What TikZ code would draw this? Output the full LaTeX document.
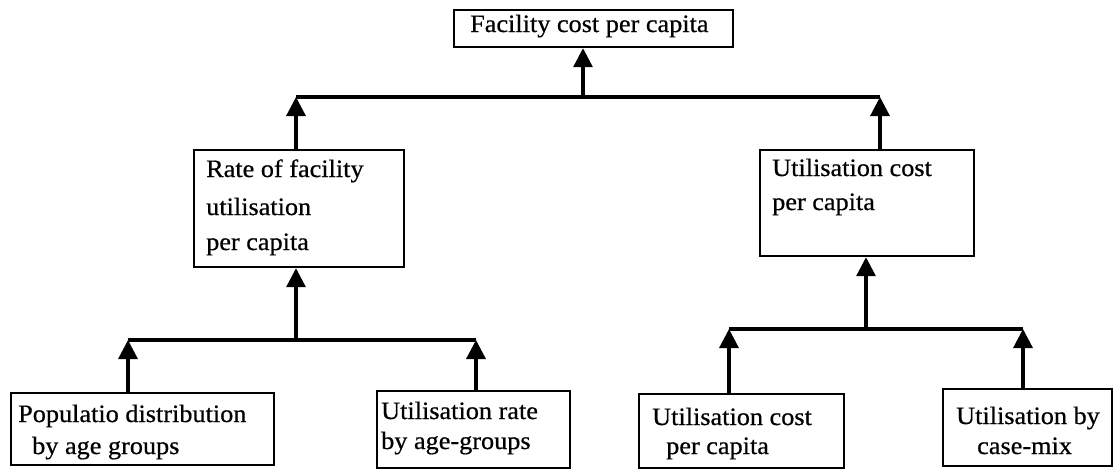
\documentclass[tikz,border=0pt]{standalone}
\usepackage{fontspec}
\setmainfont{Liberation Serif}[FakeStretch=1.05,FakeBold=0.6]
\usetikzlibrary{arrows.meta}
\begin{document}
\begin{tikzpicture}[x=1pt,y=-1pt,
  box/.style={draw,line width=2.2pt,inner sep=0pt,anchor=north west},
  lbl/.style={anchor=base west,inner sep=0pt,font=\fontsize{25}{25}\selectfont},
  conn/.style={line width=3.2pt},
  arr/.style={conn,-{Triangle[width=19pt,length=19pt]}}]
\useasboundingbox (0,0) rectangle (1116,472);
% boxes
\node[box,minimum width=279pt,minimum height=37pt] (top) at (453,9) {};
\node[box,minimum width=210pt,minimum height=117pt] (lm) at (193,149) {};
\node[box,minimum width=214pt,minimum height=106pt] (rm) at (759,149) {};
\node[box,minimum width=263pt,minimum height=72pt] (b1) at (10,392) {};
\node[box,minimum width=193pt,minimum height=77pt] (b2) at (376,390) {};
\node[box,minimum width=205pt,minimum height=74pt] (b3) at (638,393) {};
\node[box,minimum width=169pt,minimum height=77pt] (b4) at (942,388) {};
% labels
\node[lbl] (ttop) at (470,32) {Facility cost per capita};
\node[lbl] (tlm1) at (206,177) {Rate of facility};
\node[lbl] (tlm2) at (206,215) {utilisation};
\node[lbl] (tlm3) at (206,250) {per capita};
\node[lbl] (trm1) at (772,176) {Utilisation cost};
\node[lbl] (trm2) at (772,210) {per capita};
\node[lbl] (tb11) at (18,422) {Populatio distribution};
\node[lbl] (tb12) at (32,454) {by age groups};
\node[lbl] (tb21) at (381,419) {Utilisation rate};
\node[lbl] (tb22) at (381,449) {by age-groups};
\node[lbl] (tb31) at (652,425) {Utilisation cost};
\node[lbl] (tb32) at (666,454) {per capita};
\node[lbl] (tb41) at (956,424) {Utilisation by};
\node[lbl] (tb42) at (977,454) {case-mix};
% junctions
\coordinate (jt) at (583,97);
\coordinate (jtl) at (296,97);
\coordinate (jtr) at (880,97);
\coordinate (jl) at (296,340);
\coordinate (jl1) at (128,340);
\coordinate (jl2) at (476,340);
\coordinate (jr) at (866,329);
\coordinate (jr1) at (729,329);
\coordinate (jr2) at (1023,329);
% connectors
\draw[conn] (jtl) -- (jtr);
\draw[arr] (jt) -- (top.south -| jt);
\draw[arr] (lm.north -| jtl) -- (jtl);
\draw[arr] (rm.north -| jtr) -- (jtr);
\draw[conn] (jl1) -- (jl2);
\draw[arr] (jl) -- (lm.south -| jl);
\draw[arr] (b1.north -| jl1) -- (jl1);
\draw[arr] (b2.north -| jl2) -- (jl2);
\draw[conn] (jr1) -- (jr2);
\draw[arr] (jr) -- (rm.south -| jr);
\draw[arr] (b3.north -| jr1) -- (jr1);
\draw[arr] (b4.north -| jr2) -- (jr2);
\end{tikzpicture}
\end{document}
